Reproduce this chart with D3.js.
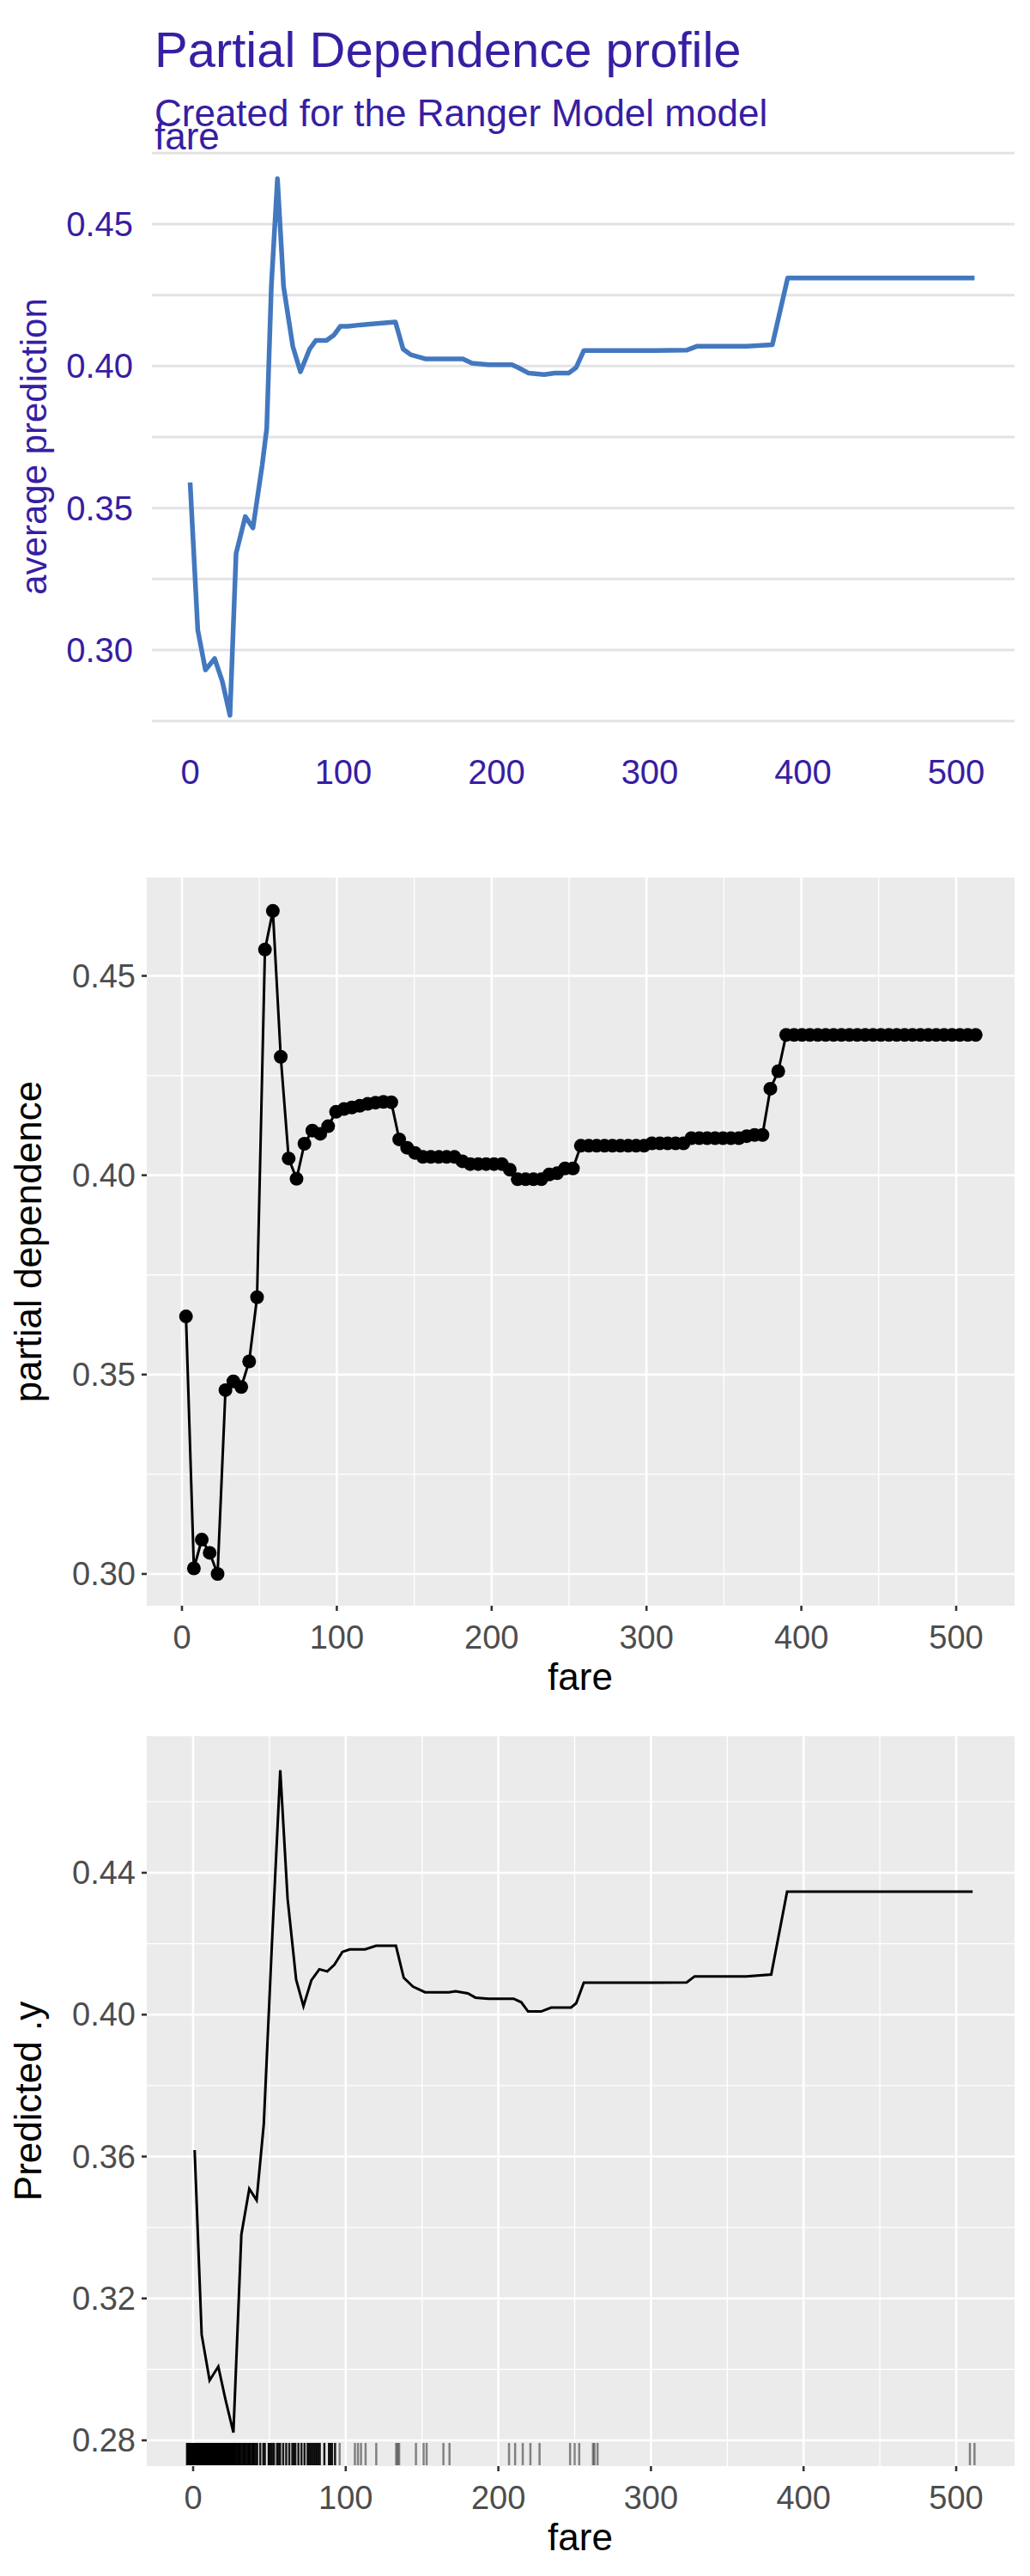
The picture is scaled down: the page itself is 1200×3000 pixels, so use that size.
<!DOCTYPE html>
<html><head><meta charset="utf-8">
<script src="https://cdn.jsdelivr.net/npm/d3@7"></script>
<style>body{margin:0;background:#fff}text{font-family:"Liberation Sans",Arial,sans-serif}</style>
</head><body><svg id="c" width="1200" height="3000"></svg>
<script>
// panel 1: DALEX profile
var dxFare=[0,5,10,16,21,26,30,36,41,47,50,53,57,61,67,72,78,82,89,94,98,103,111,122,134,139,144,154,178,184,195,210,214,221,231,238,247,252,257,303,324,331,363,380,390,512];
var dxPred=[.359,.307,.293,.297,.289,.277,.334,.347,.343,.365,.378,.428,.466,.428,.407,.398,.406,.409,.409,.411,.414,.414,.4145,.415,.4155,.406,.404,.4025,.4025,.401,.4005,.4005,.3995,.3975,.397,.3975,.3975,.3995,.4055,.4055,.4056,.407,.407,.4075,.431,.431];
// panel 2: pdp grid (2.6 .. 512.6, 101 points)
var pdStart=2.6, pdStep=5.1;
var pdVal=[.3646,.3014,.3086,.3053,.300,.3461,.3483,.3469,.3533,.3694,
.4566,.4663,.4297,.4042,.3991,.4079,.4112,.4104,.4123,.4159,
.4166,.4170,.4174,.4179,.4182,.4184,.4183,.4090,.4069,.4056,
.4046,.4046,.4046,.4046,.4046,.4035,.4028,.4028,.4028,.4028,
.4028,.4014,.3990,.3990,.3990,.3990,.4002,.4005,.4017,.4017,
.4074,.4074,.4074,.4074,.4074,.4074,.4074,.4074,.4074,.4080,
.4080,.4080,.4080,.4080,.4093,.4093,.4093,.4093,.4093,.4093,
.4093,.4098,.4101,.4101,.4217,.4261,.4352,.4352,.4352,.4352,
.4352,.4352,.4352,.4352,.4352,.4352,.4352,.4352,.4352,.4352,
.4352,.4352,.4352,.4352,.4352,.4352,.4352,.4352,.4352,.4352,.4352];
var pdFare=pdVal.map(function(d,i){return pdStart+i*pdStep});
// panel 3: predicted .y with rug
var pyFare=[1,5.6,10.8,16.5,21.2,26.4,31.6,36.8,41.6,46.3,51.5,57.1,61.9,67.5,72.3,77.5,82.7,87.9,92.6,97.8,102.6,112.6,119.9,132.9,138,144,152,167.5,172,180,185,193.5,210,215,219.5,228,234.6,247.6,251,256,301.7,323.4,328.6,362.3,378.8,389.2,510.8];
var pyVal=[.3618,.3098,.2969,.3008,.2915,.2822,.338,.3509,.3477,.3691,.4187,.4689,.4327,.4099,.4024,.4097,.4128,.4122,.4141,.4177,.4184,.4184,.4194,.4194,.4104,.4079,.4063,.4063,.4066,.406,.4048,.4045,.4045,.4035,.4009,.4009,.402,.402,.4032,.409,.409,.4091,.4108,.4108,.4113,.4347,.4347];
var rugFare=[-4,-3.5,-3,-2.5,-2,-1.5,-1,-0.5,0,0.5,1,1.5,2,2.5,3,3.5,4,4.5,5,5.5,6,6.5,7,7.05,7.25,7.5,7.75,7.8,7.9,8,8.05,8.5,9,9.5,10,10.5,11,11.5,12,12.5,13,13.5,14,14.5,15,15.5,16,16.5,17,17.5,18,18.5,19,19.5,20,20.5,21,21.5,22,22.5,23,23.5,24,24.5,25,25.5,26,26.55,27,27.5,28,29,29.5,30,30.5,31,32,33,33.5,34,35,36,36.5,37,38,39,39.5,40,41,42,44,46,47,49.5,50,51,52,53,55,56,57,59,61,63,65,66,67,69,71,73,75,76,77,78,79,80,81,82,83,86,89,90,91,93,96,106,108,110,113,120,133,134,135,146,151,153,164,168,207,211,216,221,227,247,250,253,262,263,265,509,512];

var svg=d3.select("#c");
var purple="#371ea3";

// ---- panel 1
var x1=d3.scaleLinear().domain([0,500]).range([221.5,1114]);
var y1=d3.scaleLinear().domain([.30,.45]).range([757,261]);
var g1=svg.append("g");
[.275,.30,.325,.35,.375,.40,.425,.45,.475].forEach(function(v){
  g1.append("line").attr("x1",177).attr("x2",1182).attr("y1",y1(v)).attr("y2",y1(v)).attr("stroke","#e3e3e6").attr("stroke-width",3);
});
[.30,.35,.40,.45].forEach(function(v){
  g1.append("text").attr("x",155).attr("y",y1(v)+14).attr("text-anchor","end").attr("font-size",40).attr("fill",purple).text(v.toFixed(2));
});
[0,100,200,300,400,500].forEach(function(v){
  g1.append("text").attr("x",x1(v)).attr("y",913).attr("text-anchor","middle").attr("font-size",40).attr("fill",purple).text(v);
});
g1.append("path").datum(dxFare.map(function(f,i){return[f,dxPred[i]]}))
  .attr("d",d3.line().x(function(d){return x1(d[0])}).y(function(d){return y1(d[1])}))
  .attr("fill","none").attr("stroke","#4378bf").attr("stroke-width",5.5).attr("stroke-linejoin","round");
g1.append("text").attr("transform","translate(54,520) rotate(-90)").attr("text-anchor","middle").attr("font-size",42).attr("fill",purple).text("average prediction");
g1.append("text").attr("x",180).attr("y",78).attr("font-size",58).attr("fill",purple).text("Partial Dependence profile");
g1.append("text").attr("x",180).attr("y",147).attr("font-size",44).attr("fill",purple).text("Created for the Ranger Model model");
g1.append("text").attr("x",180).attr("y",174).attr("font-size",44).attr("fill",purple).text("fare");

// ggplot-style panel helper
function ggPanel(top,bottom,xs,ys,yMaj,yMin,yFmt,ytitle){
  var g=svg.append("g");
  g.append("rect").attr("x",171).attr("y",top).attr("width",1011).attr("height",bottom-top).attr("fill","#ebebeb");
  [50,150,250,350,450].forEach(function(v){g.append("line").attr("x1",xs(v)).attr("x2",xs(v)).attr("y1",top).attr("y2",bottom).attr("stroke","#fff").attr("stroke-width",1.3)});
  yMin.forEach(function(v){g.append("line").attr("x1",171).attr("x2",1182).attr("y1",ys(v)).attr("y2",ys(v)).attr("stroke","#fff").attr("stroke-width",1.3)});
  [0,100,200,300,400,500].forEach(function(v){
    g.append("line").attr("x1",xs(v)).attr("x2",xs(v)).attr("y1",top).attr("y2",bottom).attr("stroke","#fff").attr("stroke-width",2.6);
    g.append("line").attr("x1",xs(v)).attr("x2",xs(v)).attr("y1",bottom).attr("y2",bottom+6).attr("stroke","#333").attr("stroke-width",2.6);
    g.append("text").attr("x",xs(v)).attr("y",bottom+50).attr("text-anchor","middle").attr("font-size",38).attr("fill","#4d4d4d").text(v);
  });
  yMaj.forEach(function(v){
    g.append("line").attr("x1",171).attr("x2",1182).attr("y1",ys(v)).attr("y2",ys(v)).attr("stroke","#fff").attr("stroke-width",2.6);
    g.append("line").attr("x1",165).attr("x2",171).attr("y1",ys(v)).attr("y2",ys(v)).attr("stroke","#333").attr("stroke-width",2.6);
    g.append("text").attr("x",158).attr("y",ys(v)+13).attr("text-anchor","end").attr("font-size",38).attr("fill","#4d4d4d").text(yFmt(v));
  });
  g.append("text").attr("x",676).attr("y",bottom+98).attr("text-anchor","middle").attr("font-size",44).attr("fill","#000").text("fare");
  g.append("text").attr("transform","translate(48,"+((top+bottom)/2)+") rotate(-90)").attr("text-anchor","middle").attr("font-size",44).attr("fill","#000").text(ytitle);
  return g;
}

// ---- panel 2
var x2=d3.scaleLinear().domain([0,500]).range([212,1114]);
var y2=d3.scaleLinear().domain([.30,.45]).range([1833,1136.5]);
var g2=ggPanel(1022,1870,x2,y2,[.30,.35,.40,.45],[.325,.375,.425,.475],function(v){return v.toFixed(2)},"partial dependence");
var pd=pdFare.map(function(f,i){return[f,pdVal[i]]});
g2.append("path").datum(pd).attr("d",d3.line().x(function(d){return x2(d[0])}).y(function(d){return y2(d[1])}))
  .attr("fill","none").attr("stroke","#000").attr("stroke-width",3);
g2.selectAll("circle").data(pd).join("circle").attr("cx",function(d){return x2(d[0])}).attr("cy",function(d){return y2(d[1])}).attr("r",8).attr("fill","#000");

// ---- panel 3
var x3=d3.scaleLinear().domain([0,500]).range([225,1114]);
var y3=d3.scaleLinear().domain([.28,.44]).range([2842,2181]);
var g3=ggPanel(2022,2872,x3,y3,[.28,.32,.36,.40,.44],[.30,.34,.38,.42,.46],function(v){return v.toFixed(2)},"Predicted .y");
g3.selectAll("line.rug").data(rugFare).join("line").attr("class","rug")
  .attr("x1",function(d){return x3(d)}).attr("x2",function(d){return x3(d)}).attr("y1",2845).attr("y2",2871)
  .attr("stroke","#000").attr("stroke-width",2.5).attr("stroke-opacity",function(d){return d<95?0.9:0.45});
g3.append("path").datum(pyFare.map(function(f,i){return[f,pyVal[i]]}))
  .attr("d",d3.line().x(function(d){return x3(d[0])}).y(function(d){return y3(d[1])}))
  .attr("fill","none").attr("stroke","#000").attr("stroke-width",3);
</script></body></html>
